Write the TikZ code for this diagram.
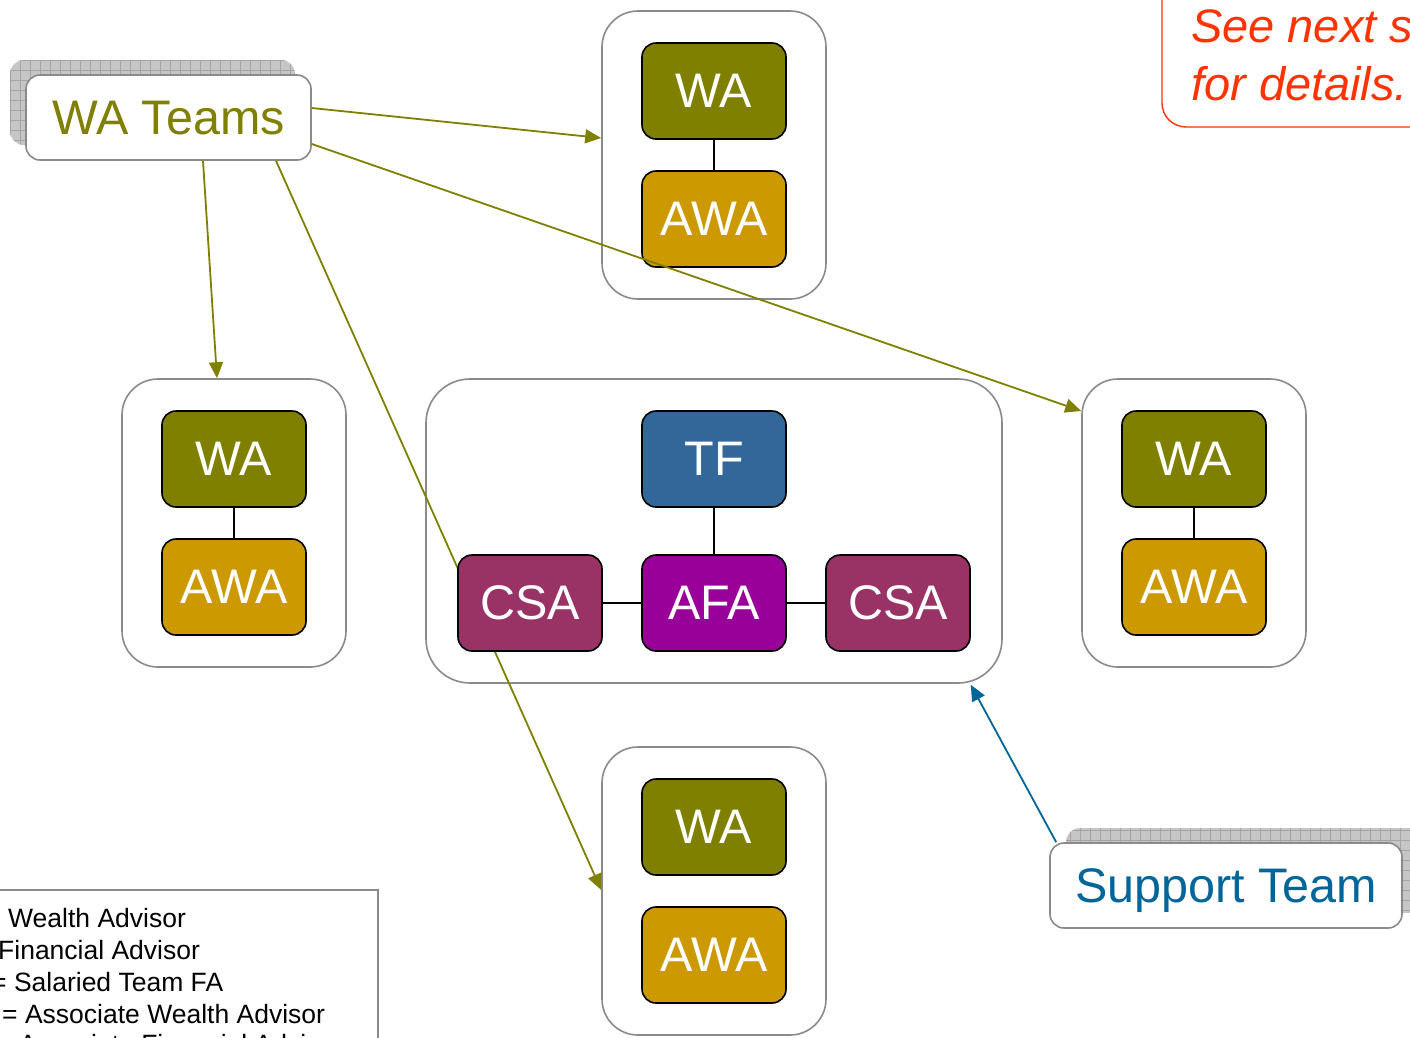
\documentclass[tikz,border=0pt]{standalone}
\usepackage{fontspec}
\setmainfont{Liberation Sans}
\usetikzlibrary{arrows.meta}
\definecolor{olivewa}{HTML}{808000}
\definecolor{goldawa}{HTML}{CC9900}
\definecolor{bluetf}{HTML}{336699}
\definecolor{plumcsa}{HTML}{993366}
\definecolor{purpleafa}{HTML}{990099}
\definecolor{framegray}{HTML}{8A8A8A}
\definecolor{supportblue}{HTML}{006699}
\definecolor{notered}{HTML}{FF3300}
\definecolor{shadowfill}{HTML}{C6C6C6}
\definecolor{shadowgrid}{HTML}{A4A4A4}

\begin{document}
\begin{tikzpicture}[x=1pt,y=-1pt,
  teambox/.style={draw=framegray, line width=1.6pt, fill=white, rounded corners=36pt, inner sep=0pt},
  rolebox/.style={draw=black, line width=1.6pt, rounded corners=14pt,
    minimum width=144pt, minimum height=96pt, inner sep=0pt, text=white,
    font=\fontsize{48.5}{50}\selectfont},
  wabox/.style={rolebox, fill=olivewa},
  awabox/.style={rolebox, fill=goldawa},
  tfbox/.style={rolebox, fill=bluetf},
  csabox/.style={rolebox, fill=plumcsa},
  afabox/.style={rolebox, fill=purpleafa},
  link/.style={draw=black, line width=1.6pt},
  labelbox/.style={draw=framegray, line width=1.6pt, fill=white, rounded corners=14pt,
    inner sep=0pt, text depth=0pt, font=\fontsize{48.5}{50}\selectfont},
  olivearrow/.style={draw=olivewa, line width=1.8pt, -{Triangle[length=16pt,width=14pt]}},
  bluearrow/.style={draw=supportblue, line width=1.8pt, -{Triangle[length=16pt,width=14pt]}},
  legendtext/.style={anchor=base west, inner sep=0pt, font=\fontsize{26.5}{30}\selectfont},
  notetext/.style={anchor=base west, inner sep=0pt, text=notered, font=\fontsize{47}{50}\selectfont\itshape},
]
\useasboundingbox (0,0) rectangle (1410,1037);
\fill[white] (0,0) rectangle (1410,1037);

% legend panel
\draw[framegray, line width=1.4pt] (-10,890) rectangle (378,1080);
\node[legendtext] (lg1) at (8,927)  {Wealth Advisor};
\node[legendtext] (lg2) at (-2,959) {Financial Advisor};
\node[legendtext] (lg3) at (-9,991) {= Salaried Team FA};
\node[legendtext] (lg4) at (2,1023) {= Associate Wealth Advisor};
\node[legendtext] (lg5) at (-4,1053) {= Associate Financial Advisor};

% note box in the corner
\draw[notered, line width=1.4pt, rounded corners=24pt] (1460,-40) -- (1162,-40) -- (1162,127) -- (1460,127);
\node[notetext] (note1) at (1191,42)  {See next s};
\node[notetext] (note2) at (1191,100) {for details.};

% hatched shadows behind the label boxes
\begin{scope}
  \clip[rounded corners=14pt] (10,60) rectangle (295,145);
  \fill[shadowfill] (10,60) rectangle (295,145);
  \draw[shadowgrid, line width=0.8pt, step=10pt] (0,50) grid (300,150);
\end{scope}
\begin{scope}
  \clip[rounded corners=14pt] (1066,828) rectangle (1430,913);
  \fill[shadowfill] (1066,828) rectangle (1430,913);
  \draw[shadowgrid, line width=0.8pt, step=10pt] (1060,820) grid (1430,920);
\end{scope}

% team containers
\node[teambox, minimum width=224pt, minimum height=288pt] (ttop)    at (714,155) {};
\node[teambox, minimum width=224pt, minimum height=288pt] (tleft)   at (234,523) {};
\node[teambox, minimum width=224pt, minimum height=288pt] (tright)  at (1194,523) {};
\node[teambox, minimum width=224pt, minimum height=288pt] (tbottom) at (714,891) {};
\node[teambox, minimum width=576pt, minimum height=304pt, rounded corners=44pt] (tcenter) at (714,531) {};

% label boxes
\node[labelbox, minimum width=285pt, minimum height=85pt, text=olivewa] (wat) at (168.5,117.5) {WA Teams};
\node[labelbox, minimum width=352pt, minimum height=85pt, text=supportblue] (sup) at (1226,885.5) {Support Team};

% arrows that pass beneath the role boxes
\draw[olivearrow] ([yshift=9.5pt]wat.east) -- ([yshift=17pt]ttop.west);
\draw[olivearrow] ([xshift=34.5pt]wat.south) -- ([xshift=-17pt]tleft.north);
\draw[olivearrow] ([xshift=107.5pt]wat.south) -- ([yshift=1pt]tbottom.west);

% top team
\node[wabox]  (topwa)  at (714,91)  {WA};
\node[awabox] (topawa) at (714,219) {AWA};
\draw[link] (topwa.south) -- (topawa.north);

% left team
\node[wabox]  (leftwa)  at (234,459) {WA};
\node[awabox] (leftawa) at (234,587) {AWA};
\draw[link] (leftwa.south) -- (leftawa.north);

% right team
\node[wabox]  (rightwa)  at (1194,459) {WA};
\node[awabox] (rightawa) at (1194,587) {AWA};
\draw[link] (rightwa.south) -- (rightawa.north);

% bottom team
\node[wabox]  (botwa)  at (714,827) {WA};
\node[awabox] (botawa) at (714,955) {AWA};

% central salaried team
\node[tfbox]  (tf)   at (714,459) {TF};
\node[afabox] (afa)  at (714,603) {AFA};
\node[csabox] (csal) at (530,603) {CSA};
\node[csabox] (csar) at (898,603) {CSA};
\draw[link] (tf.south) -- (afa.north);
\draw[link] (csal.east) -- (afa.west);
\draw[link] (afa.east) -- (csar.west);

% arrow drawn over the top team
\draw[olivearrow] ([yshift=-26.5pt]wat.east) -- ([yshift=112pt]tright.west);

% support link into the central team
\draw[bluearrow] ([xshift=7pt]sup.north west) -- ([xshift=-32pt,yshift=-1pt]tcenter.south east);
\end{tikzpicture}
\end{document}
